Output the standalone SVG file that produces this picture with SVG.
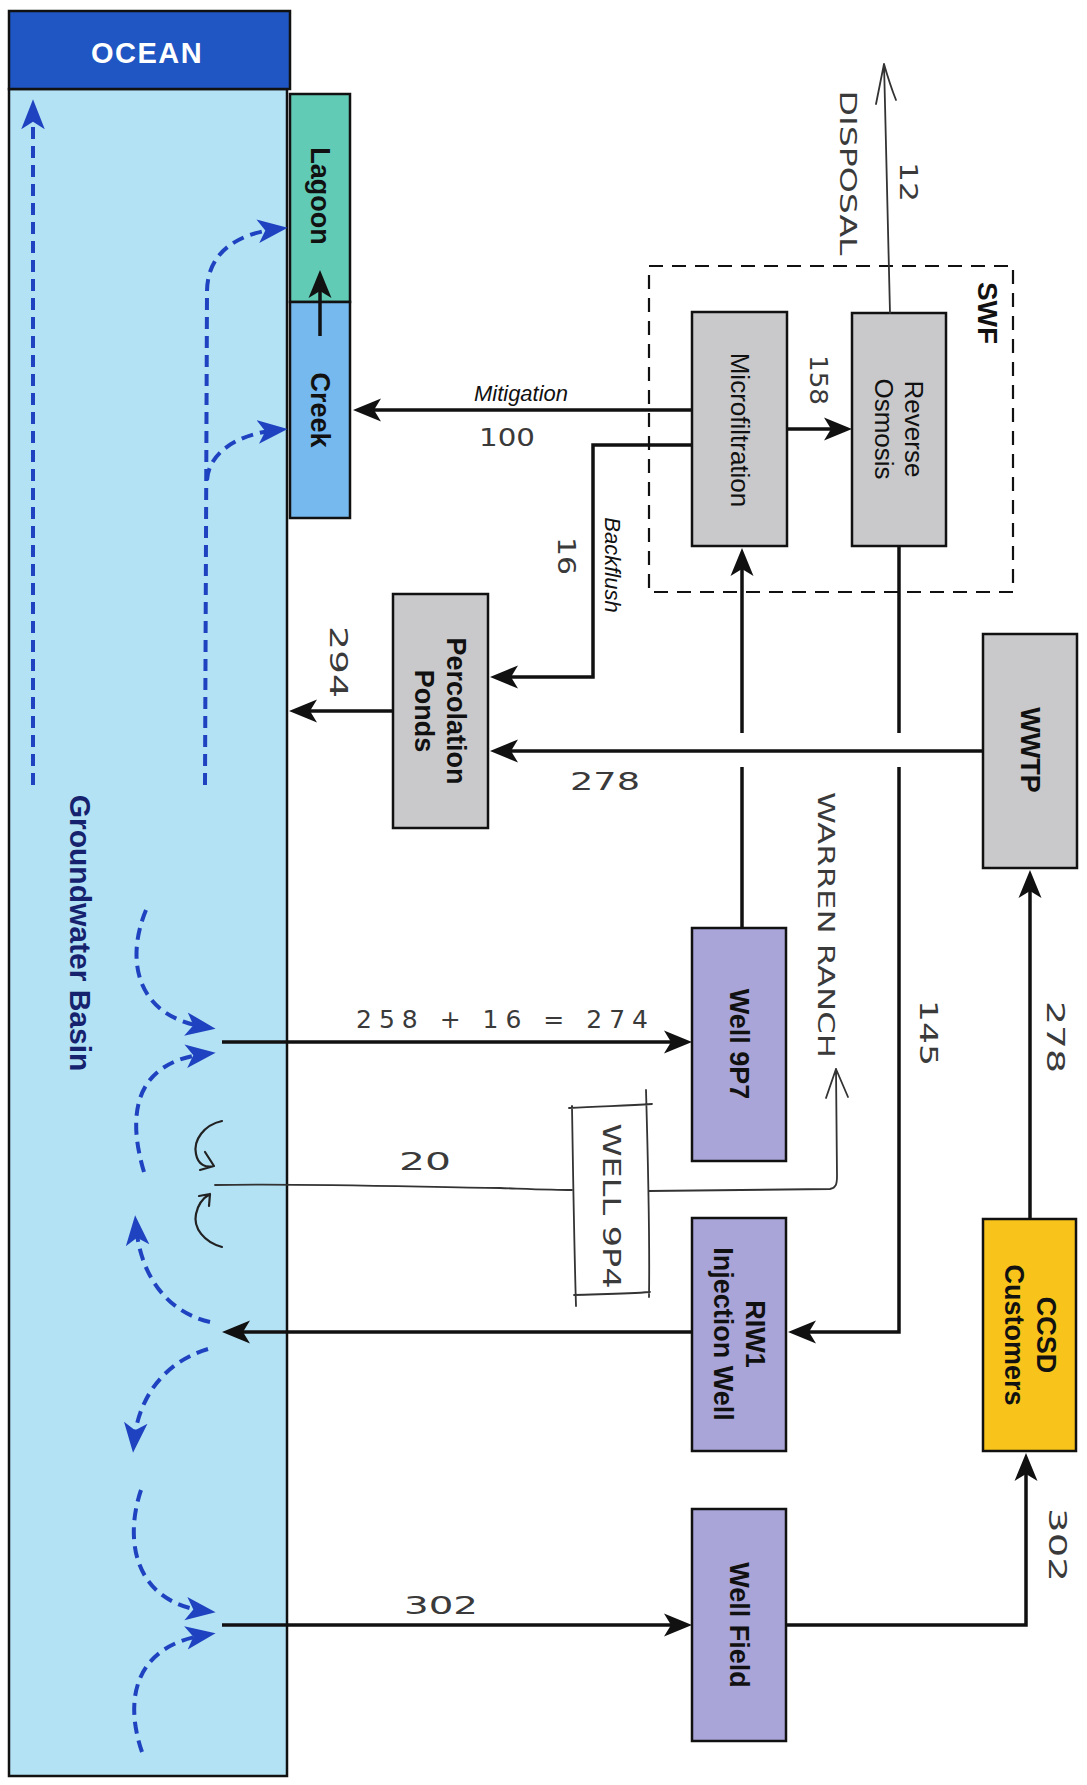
<svg xmlns="http://www.w3.org/2000/svg" width="1087" height="1785" viewBox="0 0 1087 1785">
<defs>
<style>
.box{stroke:#111;stroke-width:2.5}
.gray{fill:#c9c9cb}
.purple{fill:#a9a5d8}
.lbl{font-family:"Liberation Sans",Arial,sans-serif;font-weight:bold;font-size:27px;fill:#111;text-anchor:middle;dominant-baseline:central}
.reg{font-family:"Liberation Sans",Arial,sans-serif;font-size:26px;fill:#111;text-anchor:middle;dominant-baseline:central}
.ital{font-family:"Liberation Sans",Arial,sans-serif;font-style:italic;font-size:22px;fill:#111;text-anchor:middle}
.hand{font-family:"DejaVu Sans","Liberation Sans",sans-serif;font-size:25px;fill:#3a3a3a;text-anchor:middle}
.handc{font-family:"DejaVu Sans","Liberation Sans",sans-serif;font-size:25px;fill:#3a3a3a;text-anchor:middle;dominant-baseline:central}
.conn{fill:none;stroke:#111;stroke-width:3.5}
.blue{fill:none;stroke:#1f43c0;stroke-width:4;stroke-dasharray:12 7}
.pen{fill:none;stroke:#333;stroke-width:1.8;stroke-linecap:round;stroke-linejoin:round}
</style>
<marker id="ah" viewBox="0 0 28 24" refX="20" refY="12" markerWidth="28" markerHeight="24" orient="auto" markerUnits="userSpaceOnUse"><path d="M0,0.5 L28,12 L0,23.5 L7,12 Z" fill="#111"/></marker>
<marker id="bh" viewBox="0 0 28 24" refX="18" refY="12" markerWidth="30" markerHeight="26" orient="auto" markerUnits="userSpaceOnUse"><path d="M0,1 L28,12 L0,23 L7,12 Z" fill="#1f43c0"/></marker>
</defs>
<rect width="1087" height="1785" fill="#ffffff"/>

<g id="basin">
<rect x="9" y="89" width="278" height="1687" fill="#b3e2f5" class="box"/>
<text class="lbl" style="fill:#16226e;font-size:30px" transform="translate(80,933) rotate(90)">Groundwater Basin</text>
</g>
<g id="ocean">
<rect x="9" y="11" width="281" height="78" fill="#1f56c3" class="box"/>
<text class="lbl" style="fill:#ffffff;font-size:29px;letter-spacing:1.5px" x="147" y="53">OCEAN</text>
</g>
<g id="lagoon">
<rect x="290" y="94" width="60" height="208" fill="#62cbb6" class="box"/>
<text class="lbl" transform="translate(320,196) rotate(90)">Lagoon</text>
</g>
<g id="creek">
<rect x="290" y="302" width="60" height="216" fill="#76b9ee" class="box"/>
<text class="lbl" transform="translate(320,410) rotate(90)">Creek</text>
</g>

<g id="swf">
<rect x="649" y="266" width="364" height="326" fill="none" stroke="#111" stroke-width="2.2" stroke-dasharray="14 9"/>
<text class="lbl" style="font-size:28px" transform="translate(987,313) rotate(90)">SWF</text>
</g>
<g id="microfiltration">
<rect x="692" y="312" width="95" height="234" class="box gray"/>
<text class="reg" transform="translate(740,430) rotate(90)">Microfiltration</text>
</g>
<g id="reverse-osmosis">
<rect x="852" y="313" width="94" height="233" class="box gray"/>
<text class="reg" transform="translate(914,429) rotate(90)">Reverse</text>
<text class="reg" transform="translate(884,429) rotate(90)">Osmosis</text>
</g>
<g id="percolation-ponds">
<rect x="393" y="594" width="95" height="234" class="box gray"/>
<text class="lbl" transform="translate(456,711) rotate(90)">Percolation</text>
<text class="lbl" transform="translate(424,711) rotate(90)">Ponds</text>
</g>
<g id="wwtp">
<rect x="983" y="634" width="94" height="234" class="box gray"/>
<text class="lbl" transform="translate(1030,750) rotate(90)">WWTP</text>
</g>
<g id="well-9p7">
<rect x="692" y="928" width="94" height="233" class="box purple"/>
<text class="lbl" transform="translate(739,1044) rotate(90)">Well 9P7</text>
</g>
<g id="riw1">
<rect x="692" y="1218" width="94" height="233" class="box purple"/>
<text class="lbl" transform="translate(755,1334) rotate(90)">RIW1</text>
<text class="lbl" transform="translate(723,1334) rotate(90)">Injection Well</text>
</g>
<g id="ccsd">
<rect x="983" y="1219" width="93" height="232" fill="#f8c31a" class="box"/>
<text class="lbl" transform="translate(1046,1335) rotate(90)">CCSD</text>
<text class="lbl" transform="translate(1014,1335) rotate(90)">Customers</text>
</g>
<g id="well-field">
<rect x="692" y="1509" width="94" height="232" class="box purple"/>
<text class="lbl" transform="translate(739,1625) rotate(90)">Well Field</text>
</g>
<g id="well-9p4">
<path class="pen" d="M569,1108 C600,1106 625,1106 652,1104 M646,1090 C648,1160 650,1230 649,1297 M572,1106 C573,1170 574,1240 576,1306 M574,1295 C600,1294 625,1294 650,1292"/>
<text class="handc" textLength="165" lengthAdjust="spacingAndGlyphs" transform="translate(611,1206) rotate(90)">WELL 9P4</text>
</g>

<g id="connectors">
<path class="conn" marker-end="url(#ah)" d="M692,410 L361,410"/>
<path class="conn" marker-end="url(#ah)" d="M692,445 L593,445 L593,677 L498,677"/>
<path class="conn" marker-end="url(#ah)" d="M787,429 L844,429"/>
<path class="conn" d="M742,928 L742,767"/>
<path class="conn" marker-end="url(#ah)" d="M742,733 L742,556"/>
<path class="conn" d="M899,546 L899,733"/>
<path class="conn" marker-end="url(#ah)" d="M899,767 L899,1332 L796,1332"/>
<path class="conn" marker-end="url(#ah)" d="M692,1332 L230,1332"/>
<path class="conn" marker-end="url(#ah)" d="M222,1042 L684,1042"/>
<path class="conn" marker-end="url(#ah)" d="M222,1625 L684,1625"/>
<path class="conn" marker-end="url(#ah)" d="M786,1625 L1026,1625 L1026,1461"/>
<path class="conn" marker-end="url(#ah)" d="M1030,1219 L1030,878"/>
<path class="conn" marker-end="url(#ah)" d="M983,751 L498,751"/>
<path class="conn" marker-end="url(#ah)" d="M393,711 L297,711"/>
<path class="conn" marker-end="url(#ah)" d="M320,336 L320,278"/>

<path class="blue" marker-end="url(#bh)" d="M33,785 L33,110"/>
<path class="blue" marker-end="url(#bh)" d="M205,785 L207,292 C207,254 235,234 277,229"/>
<path class="blue" marker-end="url(#bh)" d="M207,480 C209,452 238,434 277,430"/>
<path class="blue" marker-end="url(#bh)" d="M146,910 C126,958 134,1016 205,1027"/>
<path class="blue" marker-end="url(#bh)" d="M144,1172 C126,1112 136,1062 205,1054"/>
<path class="blue" marker-end="url(#bh)" d="M210,1322 C166,1312 140,1274 136,1226"/>
<path class="blue" marker-end="url(#bh)" d="M208,1349 C164,1362 138,1398 134,1442"/>
<path class="blue" marker-end="url(#bh)" d="M141,1490 C124,1540 134,1602 205,1611"/>
<path class="blue" marker-end="url(#bh)" d="M142,1752 C124,1700 134,1646 205,1635"/>

<path class="pen" d="M890,313 C889,240 886,150 884,64 M884,64 L876,104 M884,64 C888,78 892,90 896,100"/>
<path class="pen" d="M215,1185 C300,1183 420,1187 500,1188 C530,1189 555,1190 572,1190"/>
<path class="pen" d="M649,1191 C720,1190 790,1189 830,1189 C836,1188 837,1184 837,1176 L836,1069 M836,1069 L826,1098 M836,1069 L848,1097"/>
<path class="pen" style="stroke:#222;stroke-width:2.2" d="M222,1121 C204,1125 193,1140 196,1154 C198,1165 206,1168 214,1166 M205,1152 L214,1166 L200,1170"/>
<path class="pen" style="stroke:#222;stroke-width:2.2" d="M222,1247 C204,1242 193,1228 196,1214 C198,1204 203,1198 210,1194 M199,1196 L210,1194 L209,1206"/>
</g>

<g id="labels">
<text class="ital" x="521" y="401">Mitigation</text>
<text class="ital" style="dominant-baseline:central" transform="translate(612,565) rotate(90)">Backflush</text>
<text class="hand" x="507" y="446" textLength="56" lengthAdjust="spacingAndGlyphs">100</text>
<text class="handc" textLength="38" lengthAdjust="spacingAndGlyphs" transform="translate(566,556) rotate(90)">16</text>
<text class="handc" textLength="50" lengthAdjust="spacingAndGlyphs" transform="translate(818,380) rotate(90)">158</text>
<text class="handc" textLength="40" lengthAdjust="spacingAndGlyphs" transform="translate(908,182) rotate(90)">12</text>
<text class="handc" style="font-size:23px" textLength="165" lengthAdjust="spacingAndGlyphs" transform="translate(848,173) rotate(90)">DISPOSAL</text>
<text class="handc" textLength="72" lengthAdjust="spacingAndGlyphs" transform="translate(338,662) rotate(90)">294</text>
<text class="hand" x="605" y="790" textLength="70" lengthAdjust="spacingAndGlyphs">278</text>
<text class="handc" style="font-size:23px" textLength="266" lengthAdjust="spacingAndGlyphs" transform="translate(826,925) rotate(90)">WARREN RANCH</text>
<text class="handc" textLength="66" lengthAdjust="spacingAndGlyphs" transform="translate(928,1033) rotate(90)">145</text>
<text class="handc" textLength="72" lengthAdjust="spacingAndGlyphs" transform="translate(1055,1037) rotate(90)">278</text>
<text class="hand" x="502" y="1028" textLength="292" lengthAdjust="spacing">258 + 16 = 274</text>
<text class="hand" x="425" y="1170" textLength="52" lengthAdjust="spacingAndGlyphs">20</text>
<text class="hand" x="441" y="1614" textLength="74" lengthAdjust="spacingAndGlyphs">302</text>
<text class="handc" textLength="74" lengthAdjust="spacingAndGlyphs" transform="translate(1057,1545) rotate(90)">302</text>
</g>
</svg>
